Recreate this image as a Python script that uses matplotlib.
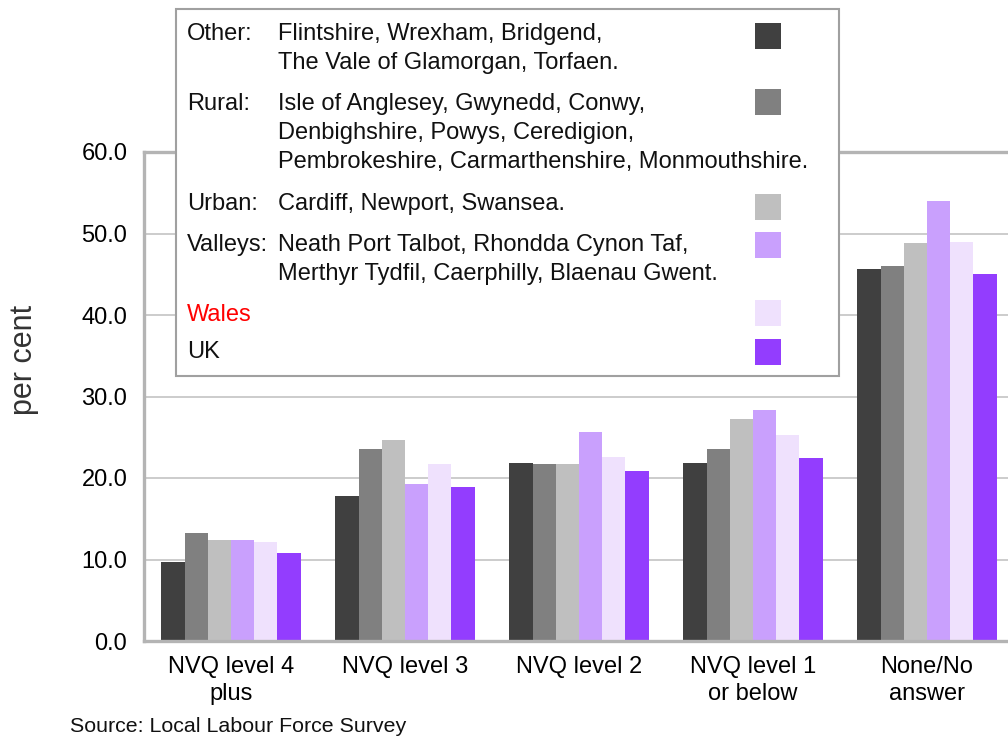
import matplotlib.pyplot as plt
import numpy as np
from matplotlib.patches import Rectangle

plt.rcParams["font.family"] = ["Liberation Sans", "DejaVu Sans"]

categories = ["NVQ level 4\nplus", "NVQ level 3", "NVQ level 2", "NVQ level 1\nor below", "None/No\nanswer"]
series_names = ["Other", "Rural", "Urban", "Valleys", "Wales", "UK"]
colors = ["#404040", "#808080", "#bfbfbf", "#c9a0fd", "#efe1fd", "#933dfe"]

other = [9.7, 17.8, 21.9, 21.8, 45.7]
rural = [13.3, 23.6, 21.7, 23.6, 46.0]
urban = [12.4, 24.7, 21.7, 27.2, 48.8]
valleys = [12.4, 19.3, 25.7, 28.4, 54.0]
wales = [12.1, 21.7, 22.6, 25.3, 48.9]
uk = [10.8, 18.9, 20.8, 22.4, 45.0]
values = [other, rural, urban, valleys, wales, uk]

yticks = [0, 10, 20, 30, 40, 50, 60]

legend_heads = ["Other:", "Rural:", "Urban:", "Valleys:", "Wales", "UK"]
legend_descs = [
    ["Flintshire, Wrexham, Bridgend,", "The Vale of Glamorgan, Torfaen."],
    ["Isle of Anglesey, Gwynedd, Conwy,", "Denbighshire, Powys, Ceredigion,",
     "Pembrokeshire, Carmarthenshire, Monmouthshire."],
    ["Cardiff, Newport, Swansea."],
    ["Neath Port Talbot, Rhondda Cynon Taf,", "Merthyr Tydfil, Caerphilly, Blaenau Gwent."],
    [],
    [],
]

W, H = 1008, 737
FS = 17
fig = plt.figure(figsize=(W / 100, H / 100), dpi=100)


def fx(px):
    return px / W


def fy(py):
    return 1 - py / H


# axes box in pixels: left 144, right 1014, top 152, bottom 641
ax = fig.add_axes([fx(144), fy(641), fx(870), (641 - 152) / H])
ax.set_xlim(-0.5, 4.5)
ax.set_ylim(0, 60)

x = np.arange(len(categories))
bar_w = 0.8 / len(series_names)
for i, (vals, col) in enumerate(zip(values, colors)):
    ax.bar(x - 0.4 + bar_w * (i + 0.5), vals, width=bar_w, color=col, zorder=3)

ax.set_yticks(yticks)
ax.set_yticklabels([f"{v:.1f}" for v in yticks], fontsize=FS)
ax.set_xticks(x)
ax.set_xticklabels(categories, fontsize=FS, linespacing=1.3)
ax.tick_params(axis="y", length=0, pad=12)
ax.tick_params(axis="x", length=0, pad=11)
ax.grid(axis="y", color="#c8c8c8", linewidth=1.3, zorder=0)
for sp in ax.spines.values():
    sp.set_color("#b4b4b4")
    sp.set_linewidth(2.4)
    sp.set_zorder(4)

fig.text(fx(24), fy(360), "per cent", fontsize=22, rotation=90,
         ha="center", va="center", color="#333333")

# legend box
fig.patches.append(Rectangle((fx(176), fy(376)), fx(663), (376 - 9) / H,
                             transform=fig.transFigure, facecolor="white",
                             edgecolor="#a0a0a0", linewidth=1.5, zorder=10))
head_y = [34, 104, 204, 245, 315, 352]
swatch_y = [23, 89, 194, 232, 300, 339]
line_px = 29
for head, desc, hy, sy, col in zip(legend_heads, legend_descs, head_y, swatch_y, colors):
    fig.text(fx(187), fy(hy), head, fontsize=FS, va="center", zorder=11,
             color="red" if head == "Wales" else "#111111")
    for k, line in enumerate(desc):
        fig.text(fx(278), fy(hy + k * line_px), line, fontsize=FS, va="center",
                 zorder=11, color="#111111")
    fig.patches.append(Rectangle((fx(755), fy(sy + 26)), fx(26), 26 / H,
                                 transform=fig.transFigure, facecolor=col,
                                 edgecolor="none", zorder=11))

fig.text(fx(70), fy(727), "Source: Local Labour Force Survey", fontsize=15.4,
         va="center", color="#111111")

fig.savefig("out.png", dpi=100)
